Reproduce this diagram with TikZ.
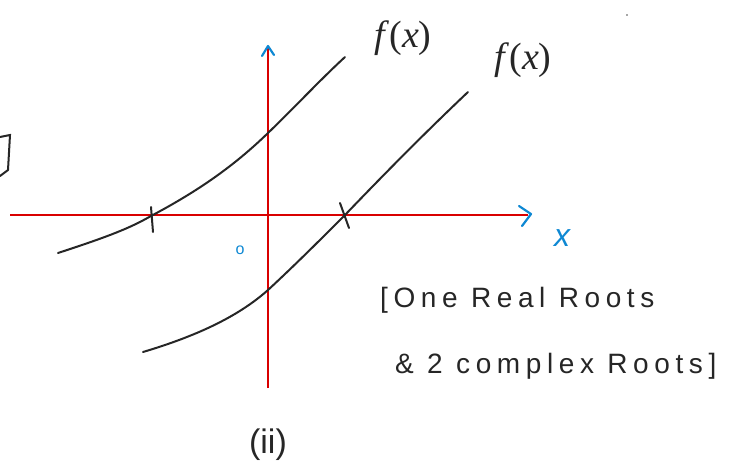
\documentclass[tikz,border=0pt]{standalone}
\usepackage{fontspec}
\setmainfont{Liberation Sans}
\newfontfamily\fxfont{Liberation Serif}
\begin{document}
\begin{tikzpicture}[x=1pt,y=-1pt,
  axis/.style={draw=red!85!black, line width=2pt},
  tip/.style={draw=cyan!70!blue, line width=2.2pt, line cap=round, line join=round},
  curve/.style={draw=black!85, line width=2pt, line cap=round},
  lbl/.style={font=\fontsize{28}{32}\selectfont\addfontfeature{LetterSpace=20}, text=black!85, inner sep=0pt},
  flbl/.style={font=\fxfont\fontsize{38}{42}\selectfont, text=black!85, inner sep=0pt},
  iilbl/.style={font=\fontsize{34}{38}\selectfont, text=black!85, inner sep=0pt},
  bluelbl/.style={font=\fontsize{32}{36}\selectfont\itshape, text=cyan!70!blue, inner sep=0pt}]
\useasboundingbox (0,0) rectangle (748,469);
% axes
\coordinate (xl) at (10,215);
\coordinate (xr) at (528,215);
\coordinate (yb) at (268,388);
\coordinate (yt) at (268,47);
\draw[axis] (xl) -- (xr);
\draw[axis] (yb) -- (yt);
\draw[tip] (519,206) -- (531,214) -- (522,226);
\draw[tip] (262,56) -- (268,46) -- (274,55);
\node[bluelbl] (xlab) at (562,238) {x};
\node[font=\fontsize{16}{18}\selectfont, text=cyan!70!blue, inner sep=0pt] (olab) at (240,250) {o};
% curves
\coordinate (r1) at (151,216);
\coordinate (r2) at (345,215);
\draw[curve] (58,253) .. controls (110,236) and (130,228) .. (r1)
  .. controls (200,190) and (235,165) .. (268,133)
  .. controls (295,107) and (320,80) .. (345,57);
\draw[curve] (143,352) .. controls (200,335) and (240,315) .. (268,290)
  .. controls (295,265) and (320,240) .. (r2)
  .. controls (390,168) and (430,128) .. (468,92);
% ticks
\draw[curve] (151,207) -- (153,232);
\draw[curve] (340,203) -- (349,228);
% labels
\node[flbl] (f1) at (403,38) {\textit{f}(\textit{x})};
\node[flbl] (f2) at (523,60) {\textit{f}(\textit{x})};
\node[lbl, anchor=west] (t1) at (380,300) {[One Real Roots};
\node[lbl, anchor=west] (t2) at (395,366) {\& 2 complex Roots]};
\node[iilbl] (ii) at (268,445) {(ii)};
\draw[curve] (0,137) -- (10,135) -- (8,170) -- (0,176);
\fill[black!70] (627,15) circle (0.8);
\end{tikzpicture}
\end{document}
